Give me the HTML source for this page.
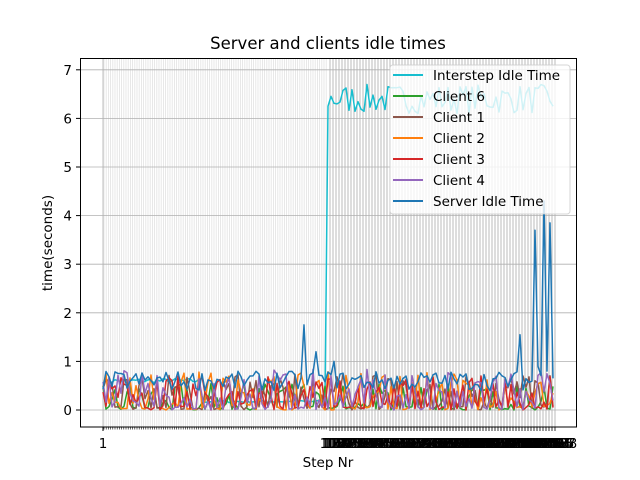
<!DOCTYPE html>
<html><head><meta charset="utf-8"><style>
html,body{margin:0;padding:0;background:#fff;}
svg{display:block;font-family:"DejaVu Sans","Liberation Sans",sans-serif;}
</style></head><body>
<svg id="s" width="640" height="480" xmlns="http://www.w3.org/2000/svg">
<rect width="640" height="480" fill="#fff"/>
<g id="grid"></g>
<g id="data"></g>
<rect x="390" y="65" width="180" height="149" rx="3" fill="#fff" fill-opacity="0.8" stroke="#ccc" stroke-opacity="0.8"/>
<g id="leg" font-size="13.5" fill="#000"></g>
<rect x="80.5" y="58.5" width="496" height="368.5" fill="none" stroke="#000" stroke-width="1"/>
<g id="ticks" font-size="13.5"></g>
<text x="328" y="49" font-size="16.5" text-anchor="middle">Server and clients idle times</text>
<text x="328" y="467" font-size="13.5" text-anchor="middle">Step Nr</text>
<text transform="translate(52,243) rotate(-90)" font-size="13.5" text-anchor="middle">time(seconds)</text>
</svg>
<script>
var NS="http://www.w3.org/2000/svg";
function el(p,t,a,txt){var e=document.createElementNS(NS,t);for(var k in a)e.setAttribute(k,a[k]);if(txt!=null)e.textContent=txt;p.appendChild(e);return e;}
var seed=7;function r(){seed=(seed*16807)%2147483647;return (seed-1)/2147483646;}
var G=document.getElementById('grid'),D=document.getElementById('data'),L=document.getElementById('leg'),T=document.getElementById('ticks');
function Y(v){return 410-v*48.6;}
// light minor grid left
for(var x=104;x<328;x+=2.2){el(G,'line',{x1:x,x2:x,y1:58,y2:427,stroke:'#e2e2e2','stroke-width':0.8});}
el(G,'line',{x1:103,x2:103,y1:58,y2:427,stroke:'#b0b0b0','stroke-width':0.8});
for(var x=330;x<=557;x+=3){el(G,'line',{x1:x,x2:x,y1:58,y2:427,stroke:'#b4b4b4','stroke-width':0.9});}
for(var i=0;i<=7;i++){el(G,'line',{x1:80,x2:577,y1:Y(i),y2:Y(i),stroke:'#b0b0b0','stroke-width':0.8});
 el(T,'line',{x1:76,x2:80,y1:Y(i),y2:Y(i),stroke:'#000'});
 el(T,'text',{x:72,y:Y(i)+5,'text-anchor':'end'},String(i));}
// x ticks
for(var x=104;x<328;x+=2.2){el(T,'line',{x1:x,x2:x,y1:427,y2:429.5,stroke:'#000','stroke-width':0.6});}
el(T,'line',{x1:103,x2:103,y1:427,y2:431,stroke:'#000'});
el(T,'text',{x:103,y:448,'text-anchor':'middle'},'1');
for(var x=330;x<=557;x+=3){el(T,'line',{x1:x,x2:x,y1:427,y2:431,stroke:'#000','stroke-width':0.8});}
var n=10;for(var x=328;x<=566;x+=1.6){el(T,'text',{x:x,y:448,'font-size':13,'text-anchor':'middle'},String(n));n++;}
var xs=[];for(var x=103;x<=555;x+=3)xs.push(x);
function line(vals,c,w){var d='';xs.forEach(function(x,i){d+=(i?'L':'M')+x+','+Y(vals[i]).toFixed(1);});el(D,'path',{d:d,fill:'none',stroke:c,'stroke-width':w||1.5,'stroke-linejoin':'round'});}
// interstep
var iv=xs.map(function(x){if(x<200)return 0.55+r()*0.1;if(x<328)return 0.15+r()*0.05;return 6.1+r()*0.6;});
line(iv,'#17becf');
function client(lo,hi,p0){return xs.map(function(){return r()<p0?r()*0.08:lo+r()*(hi-lo);});}
line(client(0.05,0.55,0.45),'#2ca02c');
line(client(0.1,0.75,0.4),'#8c564b');
line(client(0.1,0.8,0.4),'#ff7f0e');
line(client(0.05,0.7,0.35),'#d62728');
line(client(0.1,0.85,0.4),'#9467bd');
var sv=xs.map(function(x){return 0.4+r()*0.4;});
function setv(px,v){var i=Math.round((px-103)/3);if(i>=0&&i<sv.length)sv[i]=v;}
setv(305,1.75);setv(316,1.2);setv(335,1.0);setv(519,1.55);setv(536,3.7);setv(539,0.9);setv(545,4.3);setv(548,0.8);setv(551,3.85);setv(554,0.65);
line(sv,'#1f77b4');
var lg=[['Interstep Idle Time','#17becf'],['Client 6','#2ca02c'],['Client 1','#8c564b'],['Client 2','#ff7f0e'],['Client 3','#d62728'],['Client 4','#9467bd'],['Server Idle Time','#1f77b4']];
lg.forEach(function(e,i){var y=75+i*21;el(L,'line',{x1:393,x2:423,y1:y,y2:y,stroke:e[1],'stroke-width':2});el(L,'text',{x:433,y:y+5},e[0]);});
</script>
</body></html>
